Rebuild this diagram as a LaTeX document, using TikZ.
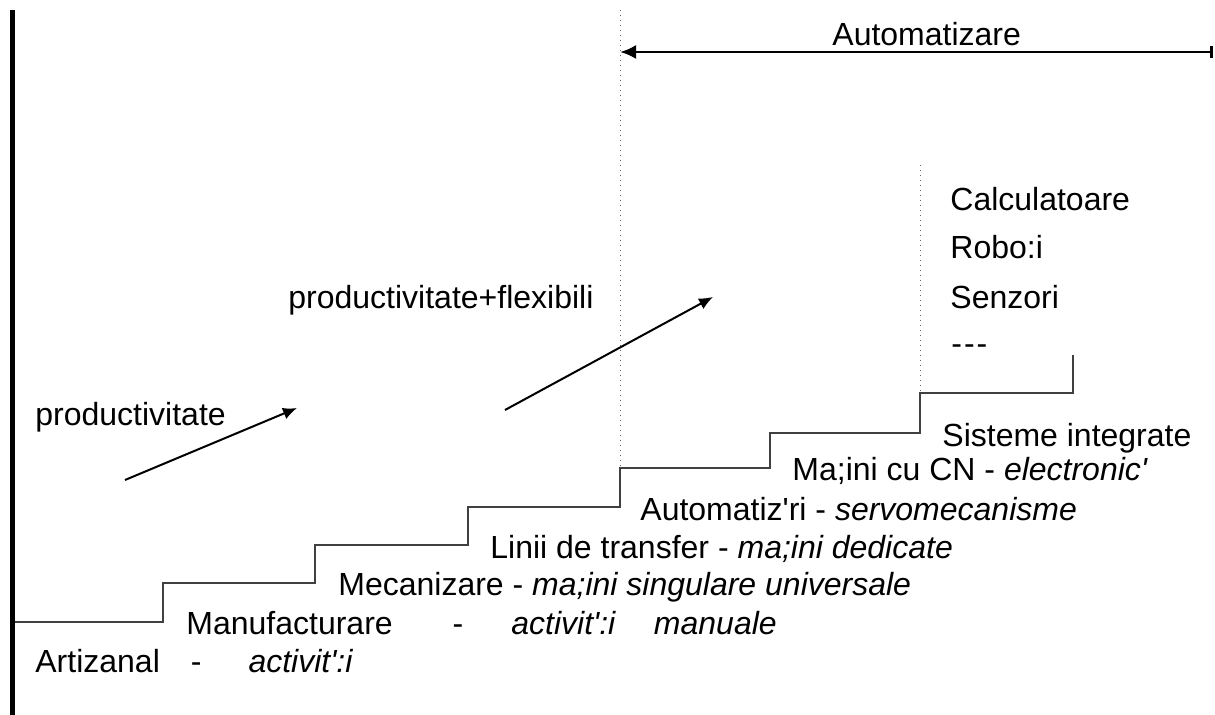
\documentclass[tikz,border=0pt]{standalone}
\usepackage{fontspec}
\setmainfont{Liberation Sans}[Ligatures=TeXOff]
\usetikzlibrary{arrows.meta}
\tikzset{
  lbl/.style={anchor=base west,inner sep=0pt,font=\fontsize{16}{19}\selectfont},
  stair/.style={draw=black!75,line width=.6pt},
  guide/.style={draw=black!60,dotted,line width=.5pt},
  trend/.style={-{Latex[length=7pt,width=6pt]},line width=1pt}
}
\begin{document}
\begin{tikzpicture}[x=.5pt,y=-.5pt]
  \useasboundingbox (0,0) rectangle (1215,715);
  % thick axis on the left
  \draw[line width=2.5pt] (12.5,10) -- (12.5,715);
  % the stairs, one step per stage
  \draw[stair] (15,622) \foreach \xs/\ya/\yb in {163/622/583,315/583/545,468/545/507,620/507/468,770/468/433,920/433/393,1073/393/355}{ -- (\xs,\ya) -- (\xs,\yb)};
  \draw[guide] (620,10) -- (620,468);
  \draw[guide] (920,165) -- (920,393);
  % automation span
  \coordinate (autoL) at (620,52);
  \coordinate (autoR) at (1213,52);
  \draw[{Latex[length=8pt,width=7pt]}-{Bar[width=6pt]},line width=1.3pt] (autoL) -- (autoR);
  \node[lbl] (auto) at (832,46) {Automatizare};
  % trend arrows
  \coordinate (p1) at (125,480); \coordinate (p2) at (297,408);
  \coordinate (f1) at (505,410); \coordinate (f2) at (713,297);
  \draw[trend] (p1) -- (p2);
  \draw[trend] (f1) -- (f2);
  \node[lbl] (prod) at (35,426) {productivitate};
  \node[lbl] (flex) at (288,309) {productivitate+flexibili};
  % tools list
  \foreach \na/\yy/\txt in {calc/211/Calculatoare,robo/259/Robo:i,senz/309/Senzori}{
    \node[lbl] (\na) at (950,\yy) {\txt};};
  \node[lbl] (more) at (951,355) {-\hspace{1pt}-\hspace{1pt}-};
  % stages
  \node[lbl] (s1) at (35,672) {Artizanal\hspace*{15.5pt}-\hspace*{23.5pt}\textit{activit':i}};
  \node[lbl] (s2) at (186,634) {Manufacturare\hspace*{30pt}-\hspace*{24pt}\textit{activit':i}\hspace*{19pt}\textit{manuale}};
  \node[lbl] (s3) at (338,596) {Mecanizare - \textit{ma;ini singulare universale}};
  \node[lbl] (s4) at (490,559) {Linii de transfer - \textit{ma;ini dedicate}};
  \node[lbl] (s5) at (640,521) {Automatiz'ri - \textit{servomecanisme}};
  \node[lbl] (s6) at (792,481) {Ma;ini cu CN - \textit{electronic'}};
  \node[lbl] (s7) at (942,447) {Sisteme integrate};
\end{tikzpicture}
\end{document}
